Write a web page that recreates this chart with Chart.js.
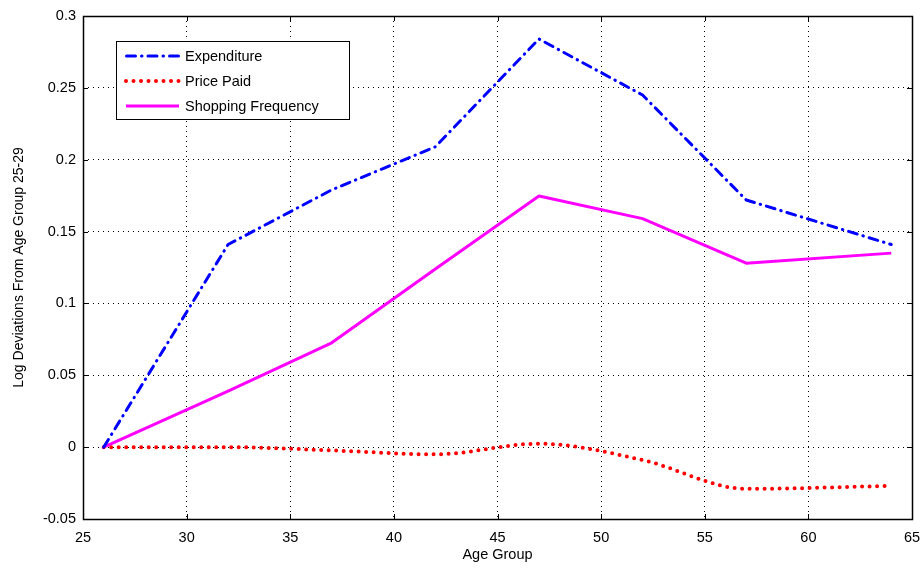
<!DOCTYPE html>
<html>
<head>
<meta charset="utf-8">
<script src="https://cdn.jsdelivr.net/npm/chart.js@4/dist/chart.umd.min.js"></script>
<style>
  html, body { margin: 0; padding: 0; background: #fff; }
  #wrap { width: 923px; height: 568px; }
</style>
</head>
<body>
<div id="wrap"><canvas id="c" width="923" height="568"></canvas></div>
<script>
// ---- data ----
const ages = [26, 32, 37, 42, 47, 52, 57, 64];
const expenditure = [0, 0.141, 0.179, 0.209, 0.284, 0.245, 0.172, 0.141];
const pricePaid = [0, 0, -0.0023, -0.005, 0.0024, -0.009, -0.029, -0.027];
const shoppingFrequency = [0, 0.039, 0.0726, 0.124, 0.1747, 0.159, 0.128, 0.135];
const seriesNames = ['Expenditure', 'Price Paid', 'Shopping Frequency'];
const xTickValues = [25, 30, 35, 40, 45, 50, 55, 60, 65];
const yTickValues = [-0.05, 0, 0.05, 0.1, 0.15, 0.2, 0.25, 0.3];
const xTitle = 'Age Group';
const yTitle = 'Log Deviations From Age Group 25-29';

const FONT = 'Arial, "Liberation Sans", Helvetica, sans-serif';
const FS = 14.5;
const toPts = vals => ages.map((a, i) => ({ x: a, y: vals[i] }));

const styles = [
  { color: '#0000ff', width: 3, dash: [9, 6, 0.5, 6], cap: 'round', tension: 0, mode: 'default' },
  { color: '#ff0000', width: 4, dash: [0, 7.5], cap: 'round', tension: 0.4, mode: 'monotone' },
  { color: '#ff00ff', width: 3, dash: [], cap: 'butt', tension: 0, mode: 'default' }
];

const boxAndTicks = {
  id: 'boxAndTicks',
  afterDraw(chart) {
    const { ctx, chartArea: a, scales } = chart;
    ctx.save();
    ctx.strokeStyle = '#000';
    ctx.lineWidth = 1;
    ctx.setLineDash([]);
    const L = 5;
    ctx.beginPath();
    xTickValues.forEach(v => {
      const px = Math.round(scales.x.getPixelForValue(v)) + 0.5;
      ctx.moveTo(px, a.bottom); ctx.lineTo(px, a.bottom - L);
      ctx.moveTo(px, a.top); ctx.lineTo(px, a.top + L);
    });
    yTickValues.forEach(v => {
      const py = Math.round(scales.y.getPixelForValue(v)) + 0.5;
      ctx.moveTo(a.left, py); ctx.lineTo(a.left + L, py);
      ctx.moveTo(a.right, py); ctx.lineTo(a.right - L, py);
    });
    ctx.stroke();
    ctx.lineWidth = 1.5;
    ctx.strokeRect(Math.round(a.left) + 0.5, Math.round(a.top) + 0.5,
      Math.round(a.right - a.left), Math.round(a.bottom - a.top));

    // legend box
    const bx = 116, by = 41, bw = 233, bh = 78;
    ctx.fillStyle = '#fff';
    ctx.fillRect(bx, by, bw, bh);
    ctx.lineWidth = 1;
    ctx.strokeRect(bx + 0.5, by + 0.5, bw, bh);
    const rows = [56, 81, 106];
    ctx.font = FS + 'px ' + FONT;
    ctx.textBaseline = 'middle';
    ctx.textAlign = 'left';
    seriesNames.forEach((name, i) => {
      const s = styles[i];
      ctx.save();
      ctx.strokeStyle = s.color;
      ctx.lineWidth = s.width;
      ctx.lineCap = s.cap;
      ctx.setLineDash(s.dash);
      if (i === 0) ctx.lineDashOffset = -0.5;
      ctx.beginPath();
      ctx.moveTo(126, rows[i]);
      ctx.lineTo(179, rows[i]);
      ctx.stroke();
      ctx.restore();
      ctx.fillStyle = '#000';
      ctx.fillText(name, 185, rows[i] + 1);
    });
    ctx.restore();
  }
};

const datasets = [expenditure, pricePaid, shoppingFrequency].map((vals, i) => ({
  label: seriesNames[i],
  data: toPts(vals),
  borderColor: styles[i].color,
  backgroundColor: styles[i].color,
  borderWidth: styles[i].width,
  borderDash: styles[i].dash,
  borderCapStyle: styles[i].cap,
  borderJoinStyle: 'round',
  tension: styles[i].tension,
  cubicInterpolationMode: styles[i].mode,
  pointRadius: 0,
  fill: false
}));

new Chart(document.getElementById('c'), {
  type: 'line',
  data: { datasets },
  options: {
    responsive: false,
    animation: false,
    devicePixelRatio: 1,
    layout: { padding: { left: 0, right: 11, top: 16, bottom: 0 } },
    plugins: { legend: { display: false }, tooltip: { enabled: false } },
    scales: {
      x: {
        type: 'linear',
        min: 25, max: 65,
        afterFit(scale) { scale.height = 49; scale.paddingLeft = 0; scale.paddingRight = 0; },
        afterBuildTicks(scale) { scale.ticks = xTickValues.map(v => ({ value: v })); },
        ticks: { color: '#000', font: { size: FS, family: FONT }, padding: 10, maxRotation: 0,
          callback: v => String(v) },
        grid: { color: '#000', lineWidth: 1, drawTicks: false },
        border: { display: false, dash: [1, 4] },
        title: { display: true, text: xTitle, color: '#000', font: { size: FS, family: FONT },
          padding: { top: 0, bottom: 4 } }
      },
      y: {
        type: 'linear',
        min: -0.05, max: 0.3,
        afterFit(scale) { scale.width = 83; scale.paddingTop = 0; scale.paddingBottom = 0; },
        afterBuildTicks(scale) { scale.ticks = yTickValues.map(v => ({ value: v })); },
        ticks: { color: '#000', font: { size: FS, family: FONT }, padding: 7,
          callback: v => String(Number(v.toFixed(2))) },
        grid: { color: '#000', lineWidth: 1, drawTicks: false },
        border: { display: false, dash: [1, 4] },
        title: { display: true, text: yTitle, color: '#000', font: { size: 14, family: FONT },
          padding: { top: 11, bottom: 0 } }
      }
    }
  },
  plugins: [boxAndTicks]
});
</script>
</body>
</html>
